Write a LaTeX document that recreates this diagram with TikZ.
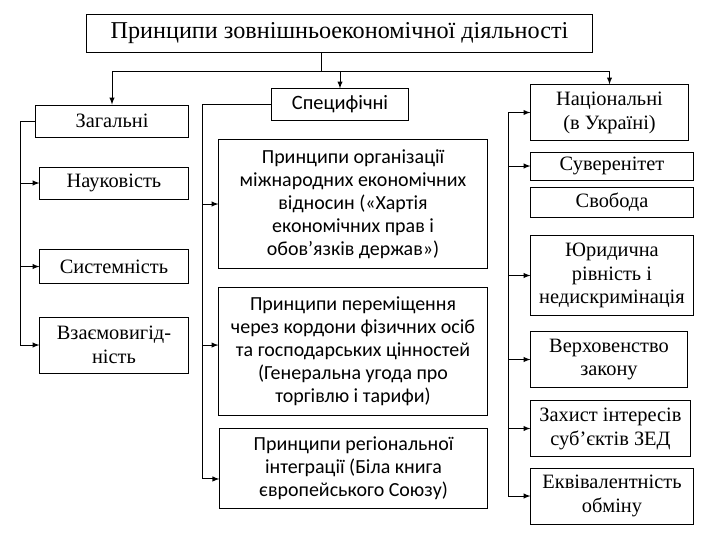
\documentclass[tikz,border=0pt]{standalone}
\usepackage{fontspec}
\setmainfont{Liberation Serif}
\newfontfamily\calib{Carlito}

\begin{document}
\begin{tikzpicture}[x=0.025cm, y=-0.025cm, >=latex, line width=0.7pt,
    every node/.style={draw, align=center, inner sep=0pt, font=\fontsize{14.5}{17}\selectfont},
    midbox/.style={font=\calib\fontsize{14.2}{16.4}\selectfont}]
        \useasboundingbox (0,0) rectangle (720,540);
        \node[font=\fontsize{17.2}{19}\selectfont, minimum width=12.63cm, minimum height=0.95cm] (title) at (339.5,33) {Принципи зовнішньоекономічної діяльності};

        % three groups
        \node[minimum width=3.8cm, minimum height=0.8cm] (zag) at (112,121) {Загальні};
        \node[midbox, font=\calib\fontsize{14.5}{17}\selectfont, minimum width=3.4cm, minimum height=0.78cm] (spec) at (340,104.5) {Специфічні};
        \node[minimum width=3.93cm, minimum height=1.38cm] (nat) at (609.5,112.5) {Національні\\(в Україні)};

        % general
        \node[minimum width=3.7cm, minimum height=0.8cm] (nauk) at (114,183) {Науковість};
        \node[minimum width=3.7cm, minimum height=0.83cm] (sys) at (114,266.5) {Системність};
        \node[minimum width=3.7cm, minimum height=1.4cm] (vz) at (114,345) {Взаємовигід-\\ність};

        % specific
        \node[midbox, minimum width=6.7cm, minimum height=3.2cm] (m1) at (353,204) {Принципи організації\\міжнародних економічних\\відносин («Хартія\\економічних прав і\\обов’язків держав»)};
        \node[midbox, minimum width=6.7cm, minimum height=3.18cm] (m2) at (353,351.5) {Принципи переміщення\\через кордони фізичних осіб\\та господарських цінностей\\(Генеральна угода про\\торгівлю і тарифи)};
        \node[midbox, minimum width=6.68cm, minimum height=2.0cm] (m3) at (353.5,468) {Принципи регіональної\\інтеграції (Біла книга\\європейського Союзу)};

        % national
        \node[minimum width=4.05cm, minimum height=0.7cm] (suv) at (612,166) {Суверенітет};
        \node[minimum width=4.05cm, minimum height=0.73cm] (svo) at (612,202.5) {Свобода};
        \node[minimum width=4.05cm, minimum height=1.98cm] (yur) at (612,275.5) {Юридична\\рівність і\\недискримінація};
        \node[minimum width=3.9cm, minimum height=1.38cm] (verh) at (609,359.5) {Верховенство\\закону};
        \node[minimum width=3.98cm, minimum height=1.38cm] (zah) at (610.5,428.5) {Захист інтересів\\суб’єктів ЗЕД};
        \node[minimum width=4.05cm, minimum height=1.4cm] (ekv) at (612,496) {Еквівалентність\\обміну};

        % connectors
        \coordinate (hub) at (321,71);
        \draw (title.south -| hub) -- (hub);
        \draw[->] (hub) -| (zag);
        \draw[->] (hub) -| (spec);
        \draw[->] (hub) -| (nat);

        \coordinate (lbus) at (20,121);
        \draw (zag.west) -- (lbus);
        \draw[->] (lbus) |- (nauk);
        \draw[->] (lbus) |- (sys);
        \draw[->] (lbus) |- (vz);

        \coordinate (mbus) at (202,104.5);
        \draw (spec.west) -- (mbus);
        \draw[->] (mbus) |- (m1);
        \draw[->] (mbus) |- ([yshift=4.6pt]m2.west);
        \draw[->] (mbus) |- ([yshift=-7.8pt]m3.west);

        \coordinate (rbus) at (508,112.5);
        \draw[->] (rbus) -- (nat);
        \draw (rbus) -- (rbus |- ekv);
        \draw[->] (rbus |- suv) -- (suv);
        \draw[->] (rbus |- yur) -- (yur);
        \draw[->] (rbus |- verh) -- (verh);
        \draw[->] (rbus |- zah) -- (zah);
        \draw[->] (rbus |- ekv) -- (ekv);
    \end{tikzpicture}
\end{document}
